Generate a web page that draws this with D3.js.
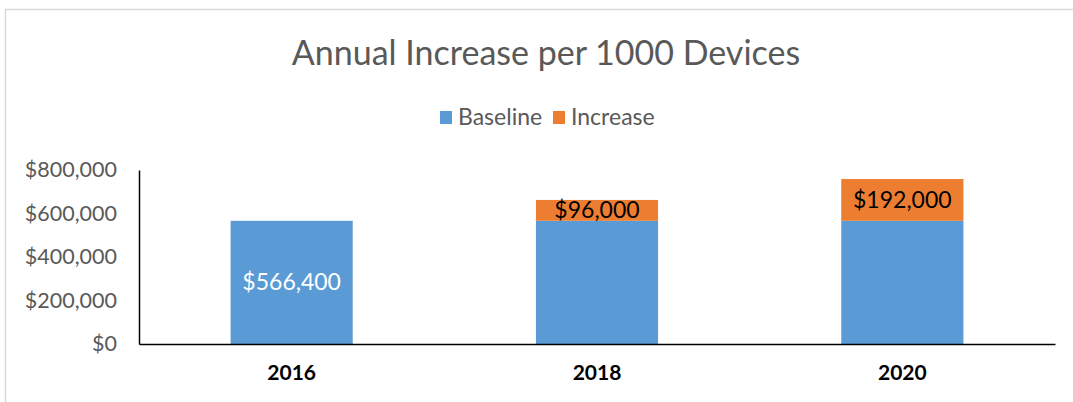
<!DOCTYPE html>
<html>
<head>
<meta charset="utf-8">
<script src="https://cdn.jsdelivr.net/npm/d3@7"></script>
<style>
  body { margin: 0; background: #fff; }
  svg { display: block; font-family: Lato, "Open Sans", sans-serif; }
</style>
</head>
<body>
<div id="chart"></div>
<script>
// chart data
var years = ["2016", "2018", "2020"];
var baseline = [566400, 566400, 566400];
var increase = [0, 96000, 192000];
var yTicks = [0, 200000, 400000, 600000, 800000];
var seriesNames = ["Baseline", "Increase"];
var colors = ["#5B9BD5", "#ED7D31"];

var W = 1073, H = 402;
var svg = d3.select("#chart").append("svg")
  .attr("width", W)
  .attr("height", H);

// chart area frame
svg.append("path")
  .attr("d", "M5.5," + H + "V9.5H" + W)
  .attr("fill", "none")
  .attr("stroke", "#d9d9d9")
  .attr("stroke-width", 1.5);

var plotLeft = 139, plotRight = 1055, plotTop = 170, plotBottom = 344;

var x = d3.scaleBand()
  .domain(years)
  .range([plotLeft, plotRight])
  .paddingInner(0.6)
  .paddingOuter(0.3);

var y = d3.scaleLinear()
  .domain([0, 800000])
  .range([plotBottom, plotTop]);

var data = years.map(function(yr, i) {
  return { year: yr, Baseline: baseline[i], Increase: increase[i] };
});
var stacked = d3.stack().keys(seriesNames)(data);

// title
svg.append("text")
  .attr("x", 546)
  .attr("y", 65)
  .attr("text-anchor", "middle")
  .attr("font-size", 34)
  .attr("fill", "#595959")
  .text("Annual Increase per 1000 Devices");

// legend
var legend = svg.append("g");
var legendX = [440, 553];
seriesNames.forEach(function(name, i) {
  legend.append("rect")
    .attr("x", legendX[i])
    .attr("y", 111)
    .attr("width", 12)
    .attr("height", 13)
    .attr("fill", colors[i]);
  legend.append("text")
    .attr("x", legendX[i] + 18)
    .attr("y", 125)
    .attr("font-size", 23)
    .attr("fill", "#595959")
    .text(name);
});

// bars
stacked.forEach(function(layer, li) {
  svg.append("g")
    .selectAll("rect")
    .data(layer.filter(function(d) { return d[1] > d[0]; }))
    .enter().append("rect")
    .attr("x", function(d) { return x(d.data.year); })
    .attr("y", function(d) { return y(d[1]); })
    .attr("width", x.bandwidth())
    .attr("height", function(d) { return y(d[0]) - y(d[1]); })
    .attr("fill", colors[li]);
});

// data labels
var fmt = d3.format("$,");
svg.append("text")
  .attr("x", x(years[0]) + x.bandwidth() / 2)
  .attr("y", y(baseline[0] / 2) + 8)
  .attr("text-anchor", "middle")
  .attr("font-size", 23)
  .attr("fill", "#ffffff")
  .text(fmt(baseline[0]));

stacked[1].forEach(function(d) {
  if (d[1] <= d[0]) return;
  svg.append("text")
    .attr("x", x(d.data.year) + x.bandwidth() / 2)
    .attr("y", (y(d[0]) + y(d[1])) / 2 + 8)
    .attr("text-anchor", "middle")
    .attr("font-size", 23)
    .attr("fill", "#000000")
    .text(fmt(d[1] - d[0]));
});

// y axis
var yAxis = svg.append("g")
  .attr("transform", "translate(" + plotLeft + ",0)")
  .call(d3.axisLeft(y).tickValues(yTicks).tickFormat(fmt).tickSize(0).tickPadding(22));
yAxis.select(".domain").attr("stroke", "#000").attr("stroke-width", 1.5);
yAxis.selectAll("text")
  .attr("font-size", 21.5)
  .attr("fill", "#595959")
  .attr("font-family", "Lato, sans-serif");

// x axis
var xAxis = svg.append("g")
  .attr("transform", "translate(0," + plotBottom + ")")
  .call(d3.axisBottom(x).tickSize(0).tickPadding(21));
xAxis.select(".domain").attr("stroke", "#000").attr("stroke-width", 1.5);
xAxis.selectAll("text")
  .attr("font-size", 21)
  .attr("font-weight", "bold")
  .attr("fill", "#000")
  .attr("font-family", "Lato, sans-serif");
</script>
</body>
</html>
